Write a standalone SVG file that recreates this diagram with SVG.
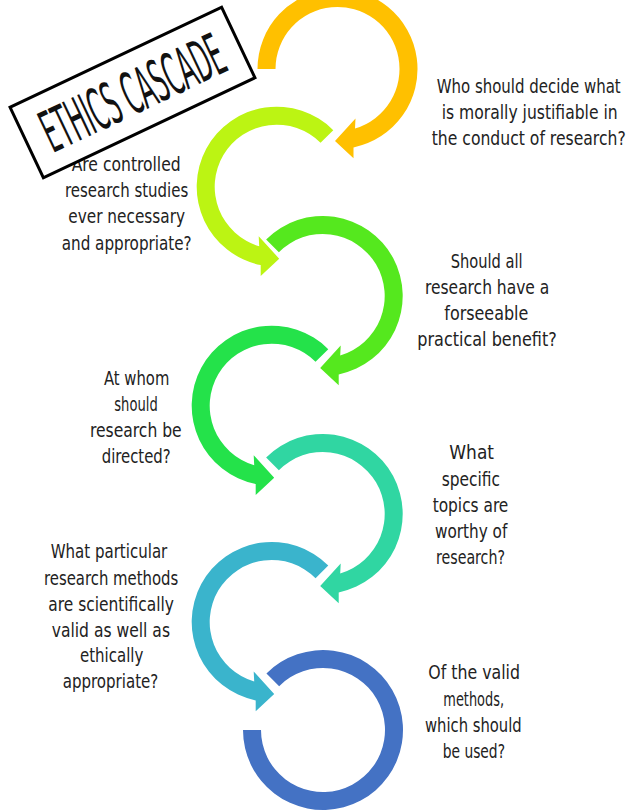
<svg xmlns="http://www.w3.org/2000/svg" width="629" height="812" viewBox="0 0 629 812">
  <style>
    .q { font-family: 'DejaVu Sans Condensed', 'DejaVu Sans', sans-serif; font-stretch: condensed; font-size: 20px; fill: #222; }
    .e { text-anchor: end; }
    .title { font-family: 'DejaVu Sans Condensed', 'DejaVu Sans', sans-serif; font-stretch: condensed; font-size: 58px; fill: #111; }
    .c1 { fill: #FFC000; }
    .c2 { fill: #BCF413; }
    .c3 { fill: #55E81E; }
    .c4 { fill: #24E24A; }
    .c5 { fill: #30D6A2; }
    .c6 { fill: #3AB4CC; }
    .c7 { fill: #4472C4; }
  </style>
  <rect width="629" height="812" fill="#fff"/>

  <!-- cascading curved arrows, each one a ring segment with an arrowhead -->
  <g id="connectors">
    <path class="c1" d="M257.5,69 A80,80 0 1 1 353.5,147.38 L353.5,158.3 L335,141 L355.5,118.5 L355,128.48 A62,62 0 1 0 275.5,69 Z"/>
    <path class="c2" d="M333.27,130.13 A80,80 0 1 0 260.7,265.08 L260.7,276 L279.2,258.7 L258.7,236.2 L259.2,246.18 A62,62 0 1 1 320.54,142.86 Z"/>
    <path class="c3" d="M266.13,239.43 A80,80 0 1 1 338.7,374.38 L338.7,385.3 L320.2,368 L340.7,345.5 L340.2,355.48 A62,62 0 1 0 278.86,252.16 Z"/>
    <path class="c4" d="M328.27,349.13 A80,80 0 1 0 255.7,484.08 L255.7,495 L274.2,477.7 L253.7,455.2 L254.2,465.18 A62,62 0 1 1 315.54,361.86 Z"/>
    <path class="c5" d="M266.13,457.43 A80,80 0 1 1 338.7,592.38 L338.7,603.3 L320.2,586 L340.7,563.5 L340.2,573.48 A62,62 0 1 0 278.86,470.16 Z"/>
    <path class="c6" d="M328.27,565.43 A80,80 0 1 0 255.7,700.38 L255.7,711.3 L274.2,694 L253.7,671.5 L254.2,681.48 A62,62 0 1 1 315.54,578.16 Z"/>
    <path class="c7" d="M266.43,673.43 A80,80 0 1 1 243,730 L261,730 A62,62 0 1 0 279.16,686.16 Z"/>
  </g>

  <g id="q1">
    <text class="q e" x="620.7" y="93.3" textLength="184" lengthAdjust="spacingAndGlyphs">Who should decide what</text>
    <text class="q e" x="617.7" y="119.3" textLength="176" lengthAdjust="spacingAndGlyphs">is morally justifiable in</text>
    <text class="q e" x="625.7" y="145" textLength="194" lengthAdjust="spacingAndGlyphs">the conduct of research?</text>
  </g>
  <g id="q2">
    <text class="q" x="71.7" y="170.7" textLength="109" lengthAdjust="spacingAndGlyphs">Are controlled</text>
    <text class="q" x="65" y="197.3" textLength="123.3" lengthAdjust="spacingAndGlyphs">research studies</text>
    <text class="q" x="68.3" y="223.3" textLength="116.7" lengthAdjust="spacingAndGlyphs">ever necessary</text>
    <text class="q" x="61.7" y="250" textLength="130" lengthAdjust="spacingAndGlyphs">and appropriate?</text>
  </g>
  <g id="q3">
    <text class="q" x="450.7" y="267.7" textLength="72" lengthAdjust="spacingAndGlyphs">Should all</text>
    <text class="q" x="425" y="294.3" textLength="124.3" lengthAdjust="spacingAndGlyphs">research have a</text>
    <text class="q" x="444.3" y="320" textLength="84" lengthAdjust="spacingAndGlyphs">forseeable</text>
    <text class="q" x="417.3" y="346" textLength="139.4" lengthAdjust="spacingAndGlyphs">practical benefit?</text>
  </g>
  <g id="q4">
    <text class="q" x="104" y="385" textLength="65.3" lengthAdjust="spacingAndGlyphs">At whom</text>
    <text class="q" x="114.3" y="411" textLength="43.4" lengthAdjust="spacingAndGlyphs">should</text>
    <text class="q" x="90" y="437.3" textLength="91.7" lengthAdjust="spacingAndGlyphs">research be</text>
    <text class="q" x="101.7" y="463.3" textLength="69" lengthAdjust="spacingAndGlyphs">directed?</text>
  </g>
  <g id="q5">
    <text class="q" x="449.3" y="459.3" textLength="44.7" lengthAdjust="spacingAndGlyphs">What</text>
    <text class="q" x="441.7" y="485.5" textLength="58.3" lengthAdjust="spacingAndGlyphs">specific</text>
    <text class="q" x="432.7" y="511.5" textLength="75.6" lengthAdjust="spacingAndGlyphs">topics are</text>
    <text class="q" x="435" y="537.5" textLength="72.3" lengthAdjust="spacingAndGlyphs">worthy of</text>
    <text class="q" x="436" y="563.5" textLength="69" lengthAdjust="spacingAndGlyphs">research?</text>
  </g>
  <g id="q6">
    <text class="q" x="50.7" y="558.3" textLength="116.6" lengthAdjust="spacingAndGlyphs">What particular</text>
    <text class="q" x="44" y="585" textLength="134.3" lengthAdjust="spacingAndGlyphs">research methods</text>
    <text class="q" x="48.3" y="611" textLength="125.7" lengthAdjust="spacingAndGlyphs">are scientifically</text>
    <text class="q" x="51.7" y="636.5" textLength="118.3" lengthAdjust="spacingAndGlyphs">valid as well as</text>
    <text class="q" x="80" y="662" textLength="63.3" lengthAdjust="spacingAndGlyphs">ethically</text>
    <text class="q" x="62.7" y="688.3" textLength="95.6" lengthAdjust="spacingAndGlyphs">appropriate?</text>
  </g>
  <g id="q7">
    <text class="q" x="428.3" y="679.3" textLength="91.7" lengthAdjust="spacingAndGlyphs">Of the valid</text>
    <text class="q" x="443.3" y="706" textLength="60.7" lengthAdjust="spacingAndGlyphs">methods,</text>
    <text class="q" x="425" y="731.7" textLength="96.7" lengthAdjust="spacingAndGlyphs">which should</text>
    <text class="q" x="442.7" y="758.3" textLength="62.3" lengthAdjust="spacingAndGlyphs">be used?</text>
  </g>

  <!-- tilted title label -->
  <g id="title" transform="translate(132.5,92.5) rotate(-25.3)">
    <rect x="-117" y="-39" width="234" height="78" fill="#fff" stroke="#000" stroke-width="3"/>
    <text class="title" x="-98" y="21" textLength="196" lengthAdjust="spacingAndGlyphs">ETHICS CASCADE</text>
  </g>
</svg>
